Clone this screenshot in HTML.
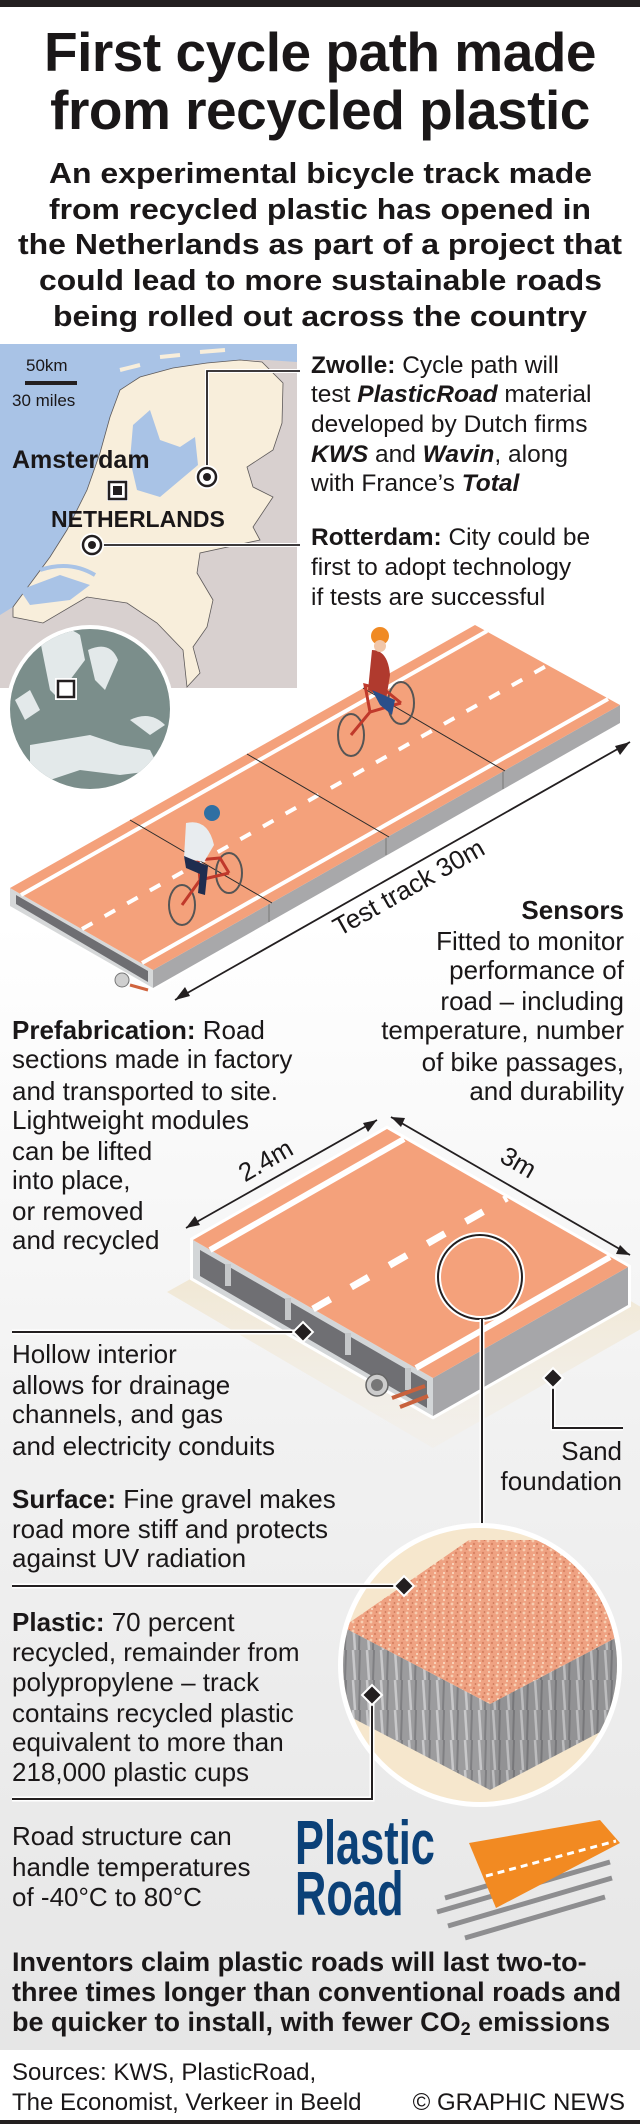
<!DOCTYPE html>
<html><head><meta charset="utf-8"><style>
html,body{margin:0;padding:0;background:#fff}
svg{display:block}
text{font-family:"Liberation Sans",Arial,sans-serif;fill:#1a1718}
.b{font-weight:bold}
.t{font-size:26px}
.z{font-size:24.5px}
</style></head><body>
<svg width="640" height="2124" viewBox="0 0 640 2124" xmlns="http://www.w3.org/2000/svg">
<defs>
<linearGradient id="bg" x1="0" y1="0" x2="0" y2="1">
<stop offset="0" stop-color="#ffffff"/><stop offset="0.45" stop-color="#ffffff"/><stop offset="0.7" stop-color="#f1f1f1"/><stop offset="1" stop-color="#e6e6e6"/>
</linearGradient>
<linearGradient id="sand" x1="0" y1="0" x2="0" y2="1">
<stop offset="0" stop-color="#ecdcb8"/><stop offset="1" stop-color="#f3ecdf" stop-opacity="0.3"/>
</linearGradient>
<pattern id="grav" width="9" height="9" patternUnits="userSpaceOnUse">
<rect width="9" height="9" fill="#efa282"/>
<circle cx="2" cy="2" r="1.4" fill="#f7cdb0"/><circle cx="6" cy="5" r="1.2" fill="#d98464"/><circle cx="3" cy="7" r="1" fill="#fbe0c8"/><circle cx="7.5" cy="1" r="0.9" fill="#c97758"/>
</pattern>
<pattern id="marb" width="14" height="30" patternUnits="userSpaceOnUse">
<rect width="14" height="30" fill="#9c9c9e"/><path d="M3 0 L5 30" stroke="#c8c8ca" stroke-width="2.5"/><path d="M10 0 L9 30" stroke="#7f7f82" stroke-width="2"/>
</pattern>
<clipPath id="bigc"><circle cx="480" cy="1665" r="137"/></clipPath>
<clipPath id="globe"><circle cx="90" cy="709" r="80"/></clipPath>
</defs>
<rect width="640" height="2050" fill="url(#bg)"/>
<rect y="2050" width="640" height="74" fill="#fff"/>
<rect width="640" height="7" fill="#231f20"/>
<rect y="2120" width="640" height="4" fill="#231f20"/>

<!-- Title -->
<text x="320" y="71" text-anchor="middle" class="b" font-size="55" letter-spacing="-0.5">First cycle path made</text>
<text x="320" y="129" text-anchor="middle" class="b" font-size="55" letter-spacing="-0.5">from recycled plastic</text>
<g class="b" font-size="29">
<text x="49" y="183" textLength="543" lengthAdjust="spacingAndGlyphs">An experimental bicycle track made</text>
<text x="49" y="219" textLength="542" lengthAdjust="spacingAndGlyphs">from recycled plastic has opened in</text>
<text x="18" y="254" textLength="604" lengthAdjust="spacingAndGlyphs">the Netherlands as part of a project that</text>
<text x="39" y="290" textLength="563" lengthAdjust="spacingAndGlyphs">could lead to more sustainable roads</text>
<text x="53" y="326" textLength="534" lengthAdjust="spacingAndGlyphs">being rolled out across the country</text>
</g>

<!-- Map -->
<rect x="0" y="344" width="297" height="344" fill="#d8d0cf"/>
<polygon fill="#a9c3e6" points="0,344 297,344 297,362 267,360 240,360 207,363 173,368 140,377 120,390 110,417 100,453 87,490 67,530 50,557 13,607 0,615"/>
<polygon fill="#f8eedb" stroke="#5e5a5a" stroke-width="0.8" points="13,607 50,557 67,530 87,490 100,453 110,417 120,390 140,377 173,368 207,363 240,360 262,362 283,383 282,423 273,450 247,467 253,487 273,497 253,527 260,540 200,553 197,573 213,600 207,627 193,647 200,673 187,687 183,650 157,623 127,603 87,597 43,623 13,617"/>
<polygon fill="#a9c3e6" points="133,425 150,410 160,440 180,447 195,437 198,465 160,497 137,490 130,460"/>
<polygon fill="#a9c3e6" points="20,590 60,575 90,585 70,600 30,605"/>
<path d="M40 570 Q70 560 95 575" stroke="#a9c3e6" stroke-width="4" fill="none"/>
<path d="M120 370 L140 365 M160 357 L180 355 M200 352 L225 350" stroke="#f8eedb" stroke-width="4"/>
<rect x="25" y="381" width="52" height="4" fill="#231f20"/>
<text x="26" y="371" font-size="17">50km</text>
<text x="12" y="406" font-size="17">30 miles</text>
<text x="12" y="468" class="b" font-size="25">Amsterdam</text>
<rect x="107" y="480" width="21" height="21" fill="#fff"/>
<rect x="109" y="482" width="17" height="17" fill="none" stroke="#231f20" stroke-width="2.5"/>
<rect x="113" y="486" width="9" height="9" fill="#231f20"/>
<text x="51" y="527" class="b" font-size="23">NETHERLANDS</text>
<polyline points="207,477 207,371 300,371" fill="none" stroke="#fff" stroke-width="4"/>
<polyline points="207,477 207,371 300,371" fill="none" stroke="#231f20" stroke-width="1.8"/>
<line x1="92" y1="545" x2="300" y2="545" stroke="#fff" stroke-width="4"/>
<line x1="92" y1="545" x2="300" y2="545" stroke="#231f20" stroke-width="1.8"/>
<g><circle cx="207" cy="477" r="12" fill="#fff"/><circle cx="207" cy="477" r="9" fill="none" stroke="#231f20" stroke-width="2.5"/><circle cx="207" cy="477" r="4" fill="#231f20"/></g>
<g><circle cx="92" cy="545" r="12" fill="#fff"/><circle cx="92" cy="545" r="9" fill="none" stroke="#231f20" stroke-width="2.5"/><circle cx="92" cy="545" r="4" fill="#231f20"/></g>

<!-- Globe -->
<circle cx="90" cy="709" r="84" fill="#fff"/>
<circle cx="90" cy="709" r="80" fill="#7b8e8b"/>
<g clip-path="url(#globe)" fill="#e3e9ea">
<path d="M40 640 Q60 620 80 635 L85 660 L70 680 L60 700 L50 690 Z"/>
<path d="M88 650 Q110 640 118 660 L105 690 L95 680 Z"/>
<path d="M30 745 L60 740 L90 735 L120 745 L150 750 L160 770 L120 775 L80 770 L50 780 L30 770 Z"/>
<path d="M130 720 Q150 710 165 725 L150 735 Z"/>
<path d="M15 700 L30 690 L40 710 L25 720 Z"/>
</g>
<rect x="55" y="678" width="22" height="22" fill="#fff"/>
<rect x="58" y="681" width="16" height="16" fill="none" stroke="#231f20" stroke-width="2.5"/>

<!-- Zwolle / Rotterdam text -->
<g class="z">
<text x="311" y="373"><tspan class="b">Zwolle:</tspan> Cycle path will</text>
<text x="311" y="402">test <tspan class="b" font-style="italic">PlasticRoad</tspan> material</text>
<text x="311" y="432">developed by Dutch firms</text>
<text x="311" y="462"><tspan class="b" font-style="italic">KWS</tspan> and <tspan class="b" font-style="italic">Wavin</tspan>, along</text>
<text x="311" y="491">with France’s <tspan class="b" font-style="italic">Total</tspan></text>
<text x="311" y="545"><tspan class="b">Rotterdam:</tspan> City could be</text>
<text x="311" y="575">first to adopt technology</text>
<text x="311" y="605">if tests are successful</text>
</g>

<!-- Road 1 -->
<polygon points="10,888 475,625 620,705 620,723 153,988 10,906" fill="#fff" stroke="#fff" stroke-width="5"/>
<polygon points="153,970 620,705 620,723 153,988" fill="#a8a8aa"/>
<polygon points="10,888 153,970 153,988 10,906" fill="#d6d8d9"/>
<polygon points="16,895 148,971 148,982 16,904" fill="#6e6e72"/>
<line x1="269" y1="904" x2="269" y2="922" stroke="#777" stroke-width="1"/>
<line x1="386" y1="837" x2="386" y2="855" stroke="#777" stroke-width="1"/>
<line x1="503" y1="771" x2="503" y2="789" stroke="#777" stroke-width="1"/>
<polygon points="10,888 475,625 620,705 153,970" fill="#f4a17b"/>
<line x1="21" y1="895" x2="487" y2="631" stroke="#fff" stroke-width="4"/>
<line x1="142" y1="963" x2="608" y2="699" stroke="#fff" stroke-width="4"/>
<line x1="82" y1="929" x2="548" y2="665" stroke="#fff" stroke-width="4" stroke-dasharray="12 14"/>
<g stroke="#2b2b2b" stroke-width="1">
<line x1="130" y1="820" x2="272" y2="903"/>
<line x1="247" y1="754" x2="389" y2="837"/>
<line x1="363" y1="688" x2="505" y2="771"/>
</g>
<circle cx="122" cy="980" r="7" fill="#cfcfcf" stroke="#777"/>
<line x1="130" y1="985" x2="148" y2="990" stroke="#d0643e" stroke-width="3"/>
<!-- cyclist 1 -->
<g fill="none" stroke="#555" stroke-width="2">
<ellipse cx="351" cy="735" rx="13" ry="21"/><ellipse cx="401" cy="703" rx="13" ry="21"/>
</g>
<path d="M351 735 L370 712 L401 703 M370 712 L365 685 L385 690 L401 703" stroke="#c0392b" stroke-width="3" fill="none"/>
<path d="M372 650 Q388 650 390 675 L386 700 L368 690 Z" fill="#b03a2e"/>
<path d="M372 690 L395 700 L392 715 L380 705 Z" fill="#2a4f8a"/>
<circle cx="380" cy="636" r="9" fill="#f08a24"/>
<circle cx="380" cy="646" r="6" fill="#f1c6a8"/>
<!-- cyclist 2 -->
<g fill="none" stroke="#555" stroke-width="2">
<ellipse cx="182" cy="905" rx="13" ry="20"/><ellipse cx="229" cy="873" rx="13" ry="20"/>
</g>
<path d="M182 905 L200 880 L229 873 M200 880 L198 860 L220 858 L229 873" stroke="#c0392b" stroke-width="3" fill="none"/>
<path d="M186 823 Q208 818 214 845 L204 862 L184 858 Z" fill="#e8ecef"/>
<path d="M184 856 L208 866 L205 895 L198 893 L200 874 L186 868 Z" fill="#1f2d4f"/>
<circle cx="212" cy="813" r="8" fill="#2f6fa3"/>
<!-- test track arrow -->
<line x1="175" y1="1000" x2="630" y2="742" stroke="#231f20" stroke-width="1.8"/>
<polygon points="630,742 615,746 620,755" fill="#231f20"/>
<polygon points="175,1000 190,996 185,987" fill="#231f20"/>
<text transform="translate(413,895) rotate(-29.5)" text-anchor="middle" font-size="26">Test track 30m</text>

<!-- Sensors -->
<g class="t" text-anchor="end">
<text x="624" y="919" class="b">Sensors</text>
<text x="624" y="950">Fitted to monitor</text>
<text x="624" y="979">performance of</text>
<text x="624" y="1010">road – including</text>
<text x="624" y="1039">temperature, number</text>
<text x="624" y="1071">of bike passages,</text>
<text x="624" y="1100">and durability</text>
</g>
<g class="t">
<text x="12" y="1039"><tspan class="b">Prefabrication:</tspan> Road</text>
<text x="12" y="1068">sections made in factory</text>
<text x="12" y="1100">and transported to site.</text>
<text x="12" y="1129">Lightweight modules</text>
<text x="12" y="1160">can be lifted</text>
<text x="12" y="1189">into place,</text>
<text x="12" y="1220">or removed</text>
<text x="12" y="1249">and recycled</text>
</g>

<!-- Road 2 -->
<polygon points="167,1292 395,1165 660,1318 433,1448" fill="url(#sand)"/>
<polygon points="193,1240 387,1129 628,1267 628,1305 433,1416 193,1278" fill="#fff" stroke="#fff" stroke-width="6"/>
<polygon points="433,1378 628,1267 628,1305 433,1416" fill="#a6a6a9"/>
<polygon points="193,1240 433,1378 433,1416 193,1278" fill="#d3d6d8"/>
<polygon points="200,1250 427,1381 427,1408 200,1276" fill="#6f6f73"/>
<g fill="#c5c7c9"><rect x="225" y="1264" width="6" height="22"/><rect x="285" y="1298" width="6" height="22"/><rect x="345" y="1333" width="6" height="22"/><rect x="405" y="1368" width="6" height="22"/></g>
<polygon points="193,1240 387,1129 628,1267 433,1378" fill="#f4a17b"/>
<line x1="210" y1="1250" x2="404" y2="1139" stroke="#fff" stroke-width="6"/>
<line x1="416" y1="1368" x2="610" y2="1257" stroke="#fff" stroke-width="6"/>
<line x1="313" y1="1309" x2="507" y2="1198" stroke="#fff" stroke-width="7" stroke-dasharray="20 24"/>
<circle cx="377" cy="1385" r="11" fill="#ccc" stroke="#666" stroke-width="1.5"/>
<circle cx="377" cy="1385" r="6" fill="#777"/>
<line x1="392" y1="1398" x2="425" y2="1386" stroke="#c8613d" stroke-width="4"/>
<line x1="400" y1="1407" x2="428" y2="1396" stroke="#c8613d" stroke-width="4"/>
<!-- dims -->
<line x1="186" y1="1228" x2="377" y2="1120" stroke="#231f20" stroke-width="1.8"/>
<polygon points="186,1228 200,1225 195,1216" fill="#231f20"/>
<polygon points="377,1120 363,1123 368,1132" fill="#231f20"/>
<line x1="391" y1="1117" x2="630" y2="1255" stroke="#231f20" stroke-width="1.8"/>
<polygon points="391,1117 401,1127 405,1118" fill="#231f20"/>
<polygon points="630,1255 620,1245 616,1254" fill="#231f20"/>
<text transform="translate(270,1168) rotate(-30)" text-anchor="middle" font-size="26">2.4m</text>
<text transform="translate(514,1170) rotate(30)" text-anchor="middle" font-size="26">3m</text>
<!-- magnifier -->
<circle cx="480" cy="1277" r="42" fill="none" stroke="#fff" stroke-width="6"/>
<circle cx="480" cy="1277" r="42" fill="none" stroke="#231f20" stroke-width="2"/>
<line x1="482" y1="1319" x2="482" y2="1528" stroke="#fff" stroke-width="5"/>
<line x1="482" y1="1319" x2="482" y2="1528" stroke="#231f20" stroke-width="2"/>
<!-- hollow callout -->
<line x1="12" y1="1332" x2="303" y2="1332" stroke="#fff" stroke-width="5"/>
<line x1="12" y1="1332" x2="303" y2="1332" stroke="#231f20" stroke-width="2"/>
<rect x="296" y="1325" width="14" height="14" transform="rotate(45 303 1332)" fill="#231f20" stroke="#fff" stroke-width="2"/>
<polyline points="553,1378 553,1428 623,1428" fill="none" stroke="#fff" stroke-width="5"/>
<polyline points="553,1378 553,1428 623,1428" fill="none" stroke="#231f20" stroke-width="2"/>
<rect x="546" y="1371" width="14" height="14" transform="rotate(45 553 1378)" fill="#231f20" stroke="#fff" stroke-width="2"/>
<g class="t">
<text x="12" y="1363">Hollow interior</text>
<text x="12" y="1394">allows for drainage</text>
<text x="12" y="1423">channels, and gas</text>
<text x="12" y="1455">and electricity conduits</text>
<text x="622" y="1460" text-anchor="end">Sand</text>
<text x="622" y="1490" text-anchor="end">foundation</text>
<text x="12" y="1508"><tspan class="b">Surface:</tspan> Fine gravel makes</text>
<text x="12" y="1538">road more stiff and protects</text>
<text x="12" y="1567">against UV radiation</text>
</g>

<!-- big circle -->
<circle cx="480" cy="1665" r="142" fill="#fff"/>
<g clip-path="url(#bigc)">
<rect x="330" y="1520" width="300" height="300" fill="#f6e7cd"/>
<polygon points="343,1627 490,1704 490,1790 343,1713" fill="url(#marb)"/>
<polygon points="490,1704 640,1625 640,1711 490,1790" fill="url(#marb)"/>
<polygon points="490,1704 640,1625 640,1711 490,1790" fill="#000" opacity="0.06"/>
<polygon points="343,1627 469,1540 640,1540 640,1625 490,1704" fill="url(#grav)"/>
</g>
<line x1="12" y1="1586" x2="404" y2="1586" stroke="#fff" stroke-width="5"/>
<line x1="12" y1="1586" x2="404" y2="1586" stroke="#231f20" stroke-width="2"/>
<rect x="397" y="1579" width="14" height="14" transform="rotate(45 404 1586)" fill="#231f20" stroke="#fff" stroke-width="2"/>
<polyline points="12,1799 372,1799 372,1695" fill="none" stroke="#fff" stroke-width="5"/>
<polyline points="12,1799 372,1799 372,1695" fill="none" stroke="#231f20" stroke-width="2"/>
<rect x="365" y="1688" width="14" height="14" transform="rotate(45 372 1695)" fill="#231f20" stroke="#fff" stroke-width="2"/>
<g class="t">
<text x="12" y="1631"><tspan class="b">Plastic:</tspan> 70 percent</text>
<text x="12" y="1661">recycled, remainder from</text>
<text x="12" y="1691">polypropylene – track</text>
<text x="12" y="1722">contains recycled plastic</text>
<text x="12" y="1751">equivalent to more than</text>
<text x="12" y="1781">218,000 plastic cups</text>
<text x="12" y="1845">Road structure can</text>
<text x="12" y="1876">handle temperatures</text>
<text x="12" y="1906">of -40°C to 80°C</text>
</g>
<!-- logo -->
<text transform="translate(295,1864) scale(0.7,1)" class="b" font-size="62" style="fill:#0b4178">Plastic</text>
<text transform="translate(295,1915) scale(0.7,1)" class="b" font-size="62" style="fill:#0b4178">Road</text>
<g stroke="#8e8e90" stroke-width="5">
<line x1="437" y1="1912" x2="610" y2="1862"/>
<line x1="448" y1="1926" x2="612" y2="1878"/>
<line x1="465" y1="1938" x2="605" y2="1897"/>
<line x1="445" y1="1898" x2="500" y2="1882"/>
</g>
<polygon points="469,1843 600,1820 620,1843 496,1908" fill="#f28a22"/>
<line x1="486" y1="1876" x2="616" y2="1841" stroke="#fff" stroke-width="3" stroke-dasharray="7 5"/>

<!-- bottom -->
<g class="b" font-size="27">
<text x="12" y="1971">Inventors claim plastic roads will last two-to-</text>
<text x="12" y="2001">three times longer than conventional roads and</text>
<text x="12" y="2031">be quicker to install, with fewer CO<tspan font-size="18" dy="4">2</tspan><tspan dy="-4"> emissions</tspan></text>
</g>
<text x="12" y="2080" font-size="24">Sources: KWS, PlasticRoad,</text>
<text x="12" y="2110" font-size="24">The Economist, Verkeer in Beeld</text>
<text x="625" y="2110" font-size="24" text-anchor="end">© GRAPHIC NEWS</text>
</svg>
</body></html>
